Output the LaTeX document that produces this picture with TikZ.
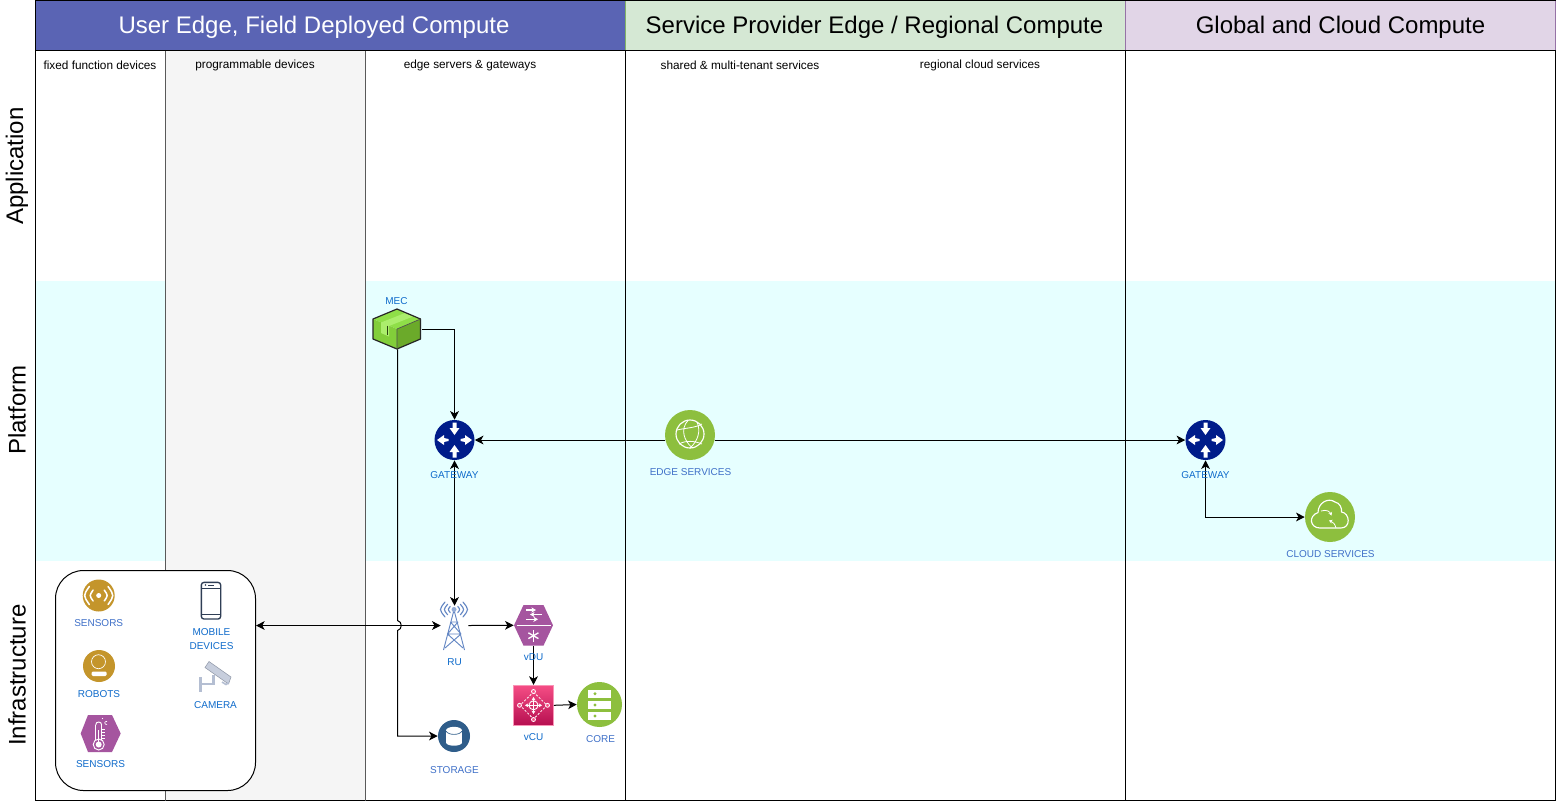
\documentclass[tikz,border=0pt]{standalone}
\usepackage{fontspec}
\setmainfont{Liberation Sans}
\usetikzlibrary{arrows.meta,shapes.geometric,calc}
\definecolor{hdrblue}{HTML}{5A64B4}
\definecolor{hdrgreen}{HTML}{D5E8D4}
\definecolor{hdrgreenb}{HTML}{82B366}
\definecolor{hdrpurple}{HTML}{E1D5E7}
\definecolor{hdrpurpleb}{HTML}{9673A6}
\definecolor{band}{HTML}{E6FFFF}
\definecolor{progcol}{HTML}{F5F5F5}
\definecolor{lblue}{HTML}{0F6BCB}
\definecolor{lblue2}{HTML}{3F70C8}
\definecolor{gold}{HTML}{C4952B}
\definecolor{violet}{HTML}{A5559F}
\definecolor{navy}{HTML}{001C8A}
\definecolor{leaf}{HTML}{8DBF3E}
\definecolor{storblue}{HTML}{2F5D8A}
\definecolor{pinkt}{HTML}{F54D85}
\definecolor{pinkb}{HTML}{B60F50}
\definecolor{towerc}{HTML}{6487C4}
\definecolor{camc}{HTML}{B4BED2}
\definecolor{phonec}{HTML}{2F3E55}
\definecolor{mectop}{HTML}{8FDF48}
\definecolor{mecleft}{HTML}{82CE3A}
\definecolor{mecright}{HTML}{6BAA2A}
\definecolor{mecstrip}{HTML}{ABEE6C}
\tikzset{
  x=0.75pt,y=-0.75pt,
  hdr/.style={font=\fontsize{18}{20}\selectfont,anchor=center},
  coltext/.style={font=\fontsize{8.85}{10}\selectfont,anchor=center},
  side/.style={font=\fontsize{18}{20}\selectfont,rotate=90,anchor=center},
  lab/.style={font=\fontsize{7.5}{10.5}\selectfont,text=lblue,align=center,anchor=center,inner sep=0pt},
  lab2/.style={lab,text=lblue2},
  conn/.style={draw=black,line width=0.75pt,{Stealth[length=6.5pt,width=6.5pt,inset=1.8pt]}-{Stealth[length=6.5pt,width=6.5pt,inset=1.8pt]}},
  connto/.style={draw=black,line width=0.75pt,-{Stealth[length=6.5pt,width=6.5pt,inset=1.8pt]}},
  disc/.style={circle,inner sep=0pt,minimum size=#1*0.75pt},
  ico/.style={draw=white,line width=0.6pt,line cap=round,line join=round},
  pics/gwarrows/.style={code={
    \foreach \a in {0,180}{
      \begin{scope}[rotate=\a]
      \fill[white] (6,-1) -- (10.5,-2) -- (10.5,-5) -- (17.5,0) -- (10.5,5) -- (10.5,2) -- (6,1) -- cycle;
      \end{scope}}
    \foreach \a in {90,270}{
      \begin{scope}[rotate=\a]
      \fill[white] (17.5,-2) -- (12,-2) -- (12,-5) -- (5,0) -- (12,5) -- (12,2) -- (17.5,2) -- cycle;
      \end{scope}}
  }},
}
\begin{document}
\begin{tikzpicture}
\useasboundingbox (0,0) rectangle (1556,801);
\fill[white] (0,0) rectangle (1556,801);
% bands and columns
\fill[band] (35.5,281) rectangle (1555,560.5);
\fill[progcol] (165.5,50) rectangle (365.5,800);
% headers
\draw[fill=hdrblue,draw=black,line width=0.75pt] (35.5,0.5) rectangle (625.5,50.5);
\draw[fill=hdrgreen,draw=hdrgreenb,line width=0.75pt] (625.5,0.5) rectangle (1125.5,50.5);
\draw[fill=hdrpurple,draw=hdrpurpleb,line width=0.75pt] (1125.5,0.5) rectangle (1555.5,50.5);
\draw[black,line width=0.75pt] (35.5,0.5) -- (1555.5,0.5) (35.5,50.5) -- (1555.5,50.5);
% frame
\draw[black,line width=0.75pt] (35.5,50.5) -- (35.5,800.5) -- (1555.5,800.5) -- (1555.5,50.5);
\draw[black,line width=0.75pt] (625.5,50.5) -- (625.5,800.5) (1125.5,50.5) -- (1125.5,800.5);
\draw[black!65,line width=0.75pt] (165.5,50.5) -- (165.5,800.5);
\draw[black!65,line width=0.75pt] (365.5,50.5) -- (365.5,800.5);
\node[hdr,text=white] (h1) at (314,27) {User Edge, Field Deployed Compute};
\node[hdr] (h2) at (874.5,27) {Service Provider Edge / Regional Compute};
\node[hdr] (h3) at (1340.5,27) {Global and Cloud Compute};
\node[coltext] (c1) at (100,65.5) {fixed function devices};
\node[coltext] (c2) at (255,65.5) {programmable devices};
\node[coltext] (c3) at (470,65.5) {edge servers \& gateways};
\node[coltext] (c4) at (740,65.5) {shared \& multi-tenant services};
\node[coltext] (c5) at (980,65.5) {regional cloud services};
\node[side] (s1) at (17,166) {Application};
\node[side] (s2) at (17,410) {Platform};
\node[side] (s3) at (17,675) {Infrastructure};
% device group
\node[draw=black,fill=white,rounded corners=21pt,line width=0.75pt,minimum width=150pt,minimum height=165pt,inner sep=0pt] (grp) at (155.5,680.5) {};
% icon nodes
\node[disc=40,fill=navy] (gw1) at (454.5,440) {};
\pic at (454.5,440) {gwarrows};
\node[disc=40,fill=navy] (gw2) at (1205.5,440) {};
\pic at (1205.5,440) {gwarrows};
\node[disc=50,fill=leaf] (edge) at (690,435) {};
\node[disc=50,fill=leaf] (cloud) at (1330,517) {};
\node[disc=45,fill=leaf] (core) at (599.5,704.5) {};
\node[disc=32,fill=storblue] (stor) at (454,736) {};
\node[disc=32,fill=gold] (sens) at (98.7,595.5) {};
\node[disc=32,fill=gold] (robot) at (99,666) {};
% MEC
\node[inner sep=0pt,minimum width=36pt,minimum height=30pt] (mec) at (397.5,329) {};
\fill[mecright] (397,329) -- (420.5,319) -- (420.5,339) -- (397,349) -- cycle;
\fill[mectop] (373,319) -- (397,309) -- (420.5,319) -- (397,329) -- cycle;
\fill[mecleft] (373,319) -- (397,329) -- (397,349) -- (373,339) -- cycle;
\fill[mecstrip] (381,322.5) -- (405,313) -- (413,316.5) -- (389,326) -- (389,336.5) -- (381,333) -- cycle;
\draw[black!60!mecright,line width=0.4pt] (387,325.5) -- (387,335);
\draw[black!85,line width=0.9pt,line join=round] (373,319) -- (397,309) -- (420.5,319) -- (420.5,339) -- (397,349) -- (373,339) -- cycle;
\draw[black!70,line width=0.5pt] (397,329) -- (420.5,319) (397,329) -- (397,349);
% hexagons
\node[inner sep=0pt,minimum width=30pt,minimum height=27.75pt] (therm) at (100.7,733.5) {};
\fill[violet] (80.7,733.5) -- (88,715) -- (112,715) -- (120.7,733.5) -- (112,752) -- (88,752) -- cycle;
\node[inner sep=0pt,minimum width=29.25pt,minimum height=30.5pt] (vdu) at (533.5,625.3) {};
\fill[violet] (514,625.3) -- (523.5,605) -- (543.5,605) -- (553,625.3) -- (543.5,645.6) -- (523.5,645.6) -- cycle;
% vCU
\node[inner sep=0pt,minimum size=30pt,draw=pinkt!60!white,line width=0.5pt,top color=pinkt,bottom color=pinkb] (vcu) at (533.5,705.3) {};
% tower, phone, camera anchor nodes
\node[inner sep=0pt,minimum width=20.25pt,minimum height=29.25pt] (ru) at (454.5,625.5) {};
\node[draw=phonec,rounded corners=2pt,line width=1pt,minimum width=14.5pt,minimum height=27.5pt,inner sep=0pt,fill=white] (phone) at (211,600.7) {};
\node[inner sep=0pt,minimum width=24pt,minimum height=24pt] (cam) at (214,675.5) {};
% --- icon details
% sensor waves
\fill[white] (98.7,595.5) circle (2.5);
\begin{scope}[line width=1.15pt,line cap=round]
\foreach \r in {7.5,12.5}{
\draw[white] ($(98.7,595.5)+(-\r*.75,-\r*.72)$) .. controls ($(98.7,595.5)+(-\r*1.25,0)$) .. ($(98.7,595.5)+(-\r*.75,\r*.72)$);
\draw[white] ($(98.7,595.5)+(\r*.75,-\r*.72)$) .. controls ($(98.7,595.5)+(\r*1.25,0)$) .. ($(98.7,595.5)+(\r*.75,\r*.72)$);}
\end{scope}
% robot
\draw[ico,line width=0.5pt] (98.5,661.7) circle (7);
\fill[white,rounded corners=1pt] (91.5,671.5) rectangle (106.7,676);
% phone
\draw[phonec,line width=0.8pt] (201.5,588.5) -- (220.5,588.5) (201.5,614.5) -- (220.5,614.5);
\fill[phonec] (205.5,585) circle (0.9);
\draw[phonec,line width=0.7pt] (208,585) -- (214,585);
% camera
\fill[camc!75!white,draw=camc!80!black,line width=0.4pt] (209,661.5) -- (231,677) -- (228.5,684) -- (205,667.5) -- cycle;
\draw[camc,line width=1.8pt] (213.5,675) -- (213.5,684) -- (201,684);
\draw[camc,line width=1.8pt] (200.5,677) -- (200.5,692);
\draw[camc,line width=1.2pt] (222,682) -- (226,684.5) -- (229,682.5);
% thermometer
\draw[white,line width=0.7pt] (95.7,725) -- (95.7,740) (101.7,725) -- (101.7,740);
\draw[white,line width=0.7pt] (95.7,725) .. controls (95.7,721) and (101.7,721) .. (101.7,725);
\draw[white,line width=0.7pt] (98.7,744.5) circle (5.5);
\fill[white] (98.7,744.5) circle (3);
\draw[white,line width=1.1pt] (98.7,730) -- (98.7,744);
\draw[white,line width=.5pt] (101.7,729) -- (105,729) (101.7,732) -- (105,732) (101.7,735) -- (105,735) (101.7,738) -- (105,738);
\draw[white,line width=.5pt] (107,721.5) .. controls (104,720.5) and (104,725) .. (107,724.5);
\fill[white] (102.5,718.5) circle (.7);
% vDU
\draw[white,line width=0.5pt] (516.7,625) -- (550.7,625);
\draw[white,line width=1.2pt,-{Stealth[length=3.5pt,width=4pt]}] (526,610) -- (536,610);
\draw[white,line width=1.2pt,{Stealth[length=3.5pt,width=4pt]}-] (530,614.5) -- (541.5,614.5);
\draw[white,line width=1.2pt,-{Stealth[length=3.5pt,width=4pt]}] (526,619.3) -- (538,619.3);
\foreach \a in {90,30,150}{\draw[white,line width=1pt] ($(533.4,635.7)+(\a:5.8)$) -- ($(533.4,635.7)+(\a+180:5.8)$);}
% vCU detail
\draw[white,line width=0.6pt,dashed,dash pattern=on 1.6pt off 1.2pt] (533.5,692) -- (547,705.3) -- (533.5,719) -- (520,705.3) -- cycle;
\draw[white,line width=0.7pt] (533.5,705.3) circle (4.5);
\draw[white,line width=0.7pt,{Stealth[length=2.5pt,width=3pt]}-{Stealth[length=2.5pt,width=3pt]}] (525,705.3) -- (542,705.3);
\draw[white,line width=0.7pt,{Stealth[length=2.5pt,width=3pt]}-{Stealth[length=2.5pt,width=3pt]}] (533.5,697) -- (533.5,714);
\foreach \p in {(533.5,691.5),(533.5,719.5),(519.5,705.3),(547.5,705.3)}{\fill[pinkt] \p circle (2);\draw[white,line width=.6pt] \p circle (2);}
% core
\foreach \y in {693.7,705,716}{
\fill[white] (588,{\y-3.8}) rectangle (611,{\y+3.8});
\fill[leaf] (595,\y) circle (1.6);}
% storage
\fill[white] (446,730.5) rectangle (462,742.5);
\fill[white] (454,742.5) ellipse (8 and 3.2);
\fill[white] (454,730.5) ellipse (8 and 3.7);
\draw[storblue,line width=0.5pt] (446,731) .. controls (448,735.5) and (460,735.5) .. (462,731);
% edge globe
\draw[white,line width=0.85pt] (690,434) circle (14);
\draw[white,line width=0.6pt] (677,430) .. controls (685,428) and (695,428) .. (702,424);
\draw[white,line width=0.6pt] (679,444) .. controls (686,440) and (695,441) .. (702,444);
\draw[white,line width=0.6pt] (688,420.5) .. controls (680,429) and (684,441) .. (692,447.5);
\draw[white,line width=0.6pt] (697,422) .. controls (701,431) and (698,441) .. (690,448);
% cloud detail
\draw[white,line width=0.85pt,line join=round] (1320,528) .. controls (1310,528) and (1308,516) .. (1318,512.5) .. controls (1318,503) and (1328,497) .. (1335,502) .. controls (1340,503) and (1342,508) .. (1341.5,512) .. controls (1350,513) and (1351,528) .. (1341,528) -- cycle;
\draw[white,line width=.6pt,-{Stealth[length=2.5pt,width=3pt]}] (1321,511) .. controls (1327,509) and (1330,512) .. (1331.5,515.5);
\draw[white,line width=.6pt,-{Stealth[length=2.5pt,width=3pt]}] (1336,528) .. controls (1335,524) and (1333,522) .. (1329,520.5);
% tower
\begin{scope}[towerc,line width=0.7pt]
\draw (454,610) -- (443.5,650) (454,610) -- (464.5,650);
\draw (450.5,622) -- (458,622) (450.5,622) -- (461,634) (458,622) -- (447.5,634) (447.5,634) -- (461,634) (447.5,634) -- (463,648) (461,634) -- (445,648);
\foreach \r in {5,8.5,12}{
\draw[line width=0.85pt,line cap=round] ($(454,609.5)+(-\r*.75,-\r*.62)$) .. controls ($(454,609.5)+(-\r*1.25,0)$) .. ($(454,609.5)+(-\r*.75,\r*.62)$);
\draw[line width=0.85pt,line cap=round] ($(454,609.5)+(\r*.75,-\r*.62)$) .. controls ($(454,609.5)+(\r*1.25,0)$) .. ($(454,609.5)+(\r*.75,\r*.62)$);}
\fill[towerc!70!white] (454,609.5) circle (2.5);
\end{scope}
% connectors
\draw[connto] (mec.east) -| (gw1.north);
\draw[connto] (mec.south) -- ($(mec.south |- ru.west)+(0,-5)$) .. controls ($(mec.south |- ru.west)+(5,-4)$) and ($(mec.south |- ru.west)+(5,4)$) .. ($(mec.south |- ru.west)+(0,5)$) -- (mec.south |- stor.west) -- (stor.west);
\draw[conn] (gw1.south) -- (gw1.south |- ru.north);
\draw[conn] (grp.east |- ru.west) -- (ru.west);
\draw[connto] (ru.east) -- (vdu.west);
\draw[connto] (vdu.south) -- (vcu.north);
\draw[connto] (vcu.east) -- (core.west);
\draw[connto] (edge.191.5 |- gw1.east) -- (gw1.east);
\draw[connto] (edge.-11.5 |- gw2.west) -- (gw2.west);
\draw[conn] (gw2.south) |- (cloud.west);
% labels
\node[lab2] (l1) at (98.7,623.3) {SENSORS};
\node[lab] (l2) at (99,694) {ROBOTS};
\node[lab] (l3) at (100.5,764.5) {SENSORS};
\node[lab] (l4) at (211.5,639.5) {MOBILE\\DEVICES};
\node[lab] (l5) at (215.5,705.3) {CAMERA};
\node[lab] (l6) at (454.5,662) {RU};
\node[lab] (l7) at (533.5,657.5) {vDU};
\node[lab] (l8) at (533.5,737) {vCU};
\node[lab2] (l9) at (600.5,739) {CORE};
\node[lab2] (l10) at (454.5,770) {STORAGE};
\node[lab] (l11) at (396.5,301) {MEC};
\node[lab] (l12) at (454.5,475.3) {GATEWAY};
\node[lab2] (l13) at (690.5,472) {EDGE SERVICES};
\node[lab] (l14) at (1205.5,475.3) {GATEWAY};
\node[lab2] (l15) at (1330.5,554) {CLOUD SERVICES};
\end{tikzpicture}
\end{document}
